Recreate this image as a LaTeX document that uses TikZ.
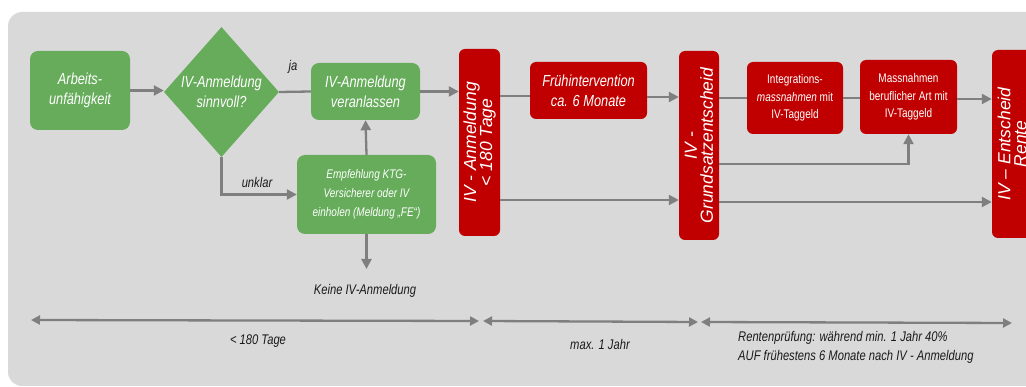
\documentclass[tikz,border=0pt]{standalone}
\usepackage{fontspec}
\setmainfont{Liberation Sans}[FakeStretch=0.8]
\newfontfamily\widefont{Liberation Sans}
\usetikzlibrary{arrows.meta,shapes.geometric,calc}
\definecolor{bg}{HTML}{D9D9D9}
\definecolor{grn}{HTML}{66AC5B}
\definecolor{rd}{HTML}{C00000}
\definecolor{arr}{HTML}{7F7F7F}
\definecolor{txt}{HTML}{1A1A1A}
\begin{document}
\begin{tikzpicture}[x=1pt,y=-1pt,
  gbox/.style={fill=grn, rounded corners=8pt, text=white, align=center, inner sep=0pt, font=\itshape\fontsize{16}{20}\selectfont},
  rbox/.style={fill=rd, rounded corners=6pt, text=white, align=center, inner sep=0pt, font=\itshape\fontsize{16}{20}\selectfont},
  vbox/.style={rbox, rotate=90, font=\widefont\itshape\fontsize{17.5}{16}\selectfont},
  sbox/.style={rbox, font=\fontsize{12.5}{17.5}\selectfont},
  conn/.style={draw=arr, line width=2.3pt},
  arrow/.style={conn, -{Triangle[length=10pt,width=10pt]}},
  darrow/.style={conn, {Triangle[length=9pt,width=9pt]}-{Triangle[length=9pt,width=9pt]}},
  lbl/.style={text=txt, font=\itshape\fontsize{14}{19}\selectfont, inner sep=0pt},
]
\useasboundingbox (0,0) rectangle (1026,387);
\begin{scope}
\clip (0,0) rectangle (1026,387);
\fill[bg, rounded corners=14pt] (8,12) rectangle (1070,386);

% green nodes
\node[gbox, minimum width=100pt, minimum height=79pt] (arb) at (80,90.5) {Arbeits-\\unfähigkeit};
\node[diamond, fill=grn, text=white, align=center, inner sep=0pt, aspect=0.885,
      minimum width=115pt, minimum height=130pt, font=\itshape\fontsize{16}{20}\selectfont] (dia) at (221.5,92) {IV-Anmeldung\\sinnvoll?};
\node[gbox, minimum width=109pt, minimum height=57pt] (ver) at (365.5,91.5) {IV-Anmeldung\\veranlassen};
\node[gbox, minimum width=139pt, minimum height=79pt, font=\itshape\fontsize{12.5}{19}\selectfont] (emp) at (366.5,194.5) {Empfehlung KTG-\\Versicherer oder IV\\einholen (Meldung „FE“)};
\node[lbl] (keine) at (365,291) {Keine IV-Anmeldung};
\coordinate (keinetop) at (366.5,269);
\node[lbl] (ja) at (293,67) {ja};
\node[lbl] (unklar) at (257,182) {unklar};

% red nodes
\node[vbox, minimum width=187pt, minimum height=41pt] (ivanm) at (479.5,142.5) {IV - Anmeldung\\< 180 Tage};
\node[rbox, minimum width=117pt, minimum height=57pt] (fruh) at (588.5,90.5) {Frühintervention\\ca. 6 Monate};
\node[vbox, minimum width=189pt, minimum height=40pt] (grund) at (699,145.5) {IV -\\Grundsatzentscheid};
\node[sbox, minimum width=96pt, minimum height=72pt] (integ) at (795,98) {Integrations-\\\textit{massnahmen} mit\\IV-Taggeld};
\node[sbox, minimum width=97pt, minimum height=74pt] (mass) at (908.5,97) {Massnahmen\\beruflicher Art mit\\IV-Taggeld};
\node[vbox, minimum width=188pt, minimum height=40pt] (ent) at (1012,144) {IV – Entscheid\\Rente};

% helper points on box sides (rotated nodes: .north = left side, .south = right side)
\coordinate (fw) at ($(fruh.west)+(0,5.5)$);
\coordinate (fe) at ($(fruh.east)+(0,6.5)$);
\coordinate (ivlow) at ($(ivanm.south)+(0,57.5)$);
\coordinate (me) at ($(mass.east)+(0,2)$);
\coordinate (gmid) at ($(grund.south)+(0,18.5)$);
\coordinate (glow) at ($(grund.south)+(0,56.5)$);

% connectors
\draw[arrow] (arb.east) -- (arb.east -| dia.west);
\draw[conn] (dia.east) -- (ver.west);
\draw[arrow] (dia.south) |- (emp.west);
\draw[arrow] (emp.north) -- (ver.south);
\draw[arrow] (emp.south) -- (keinetop);
\draw[arrow] (ver.east) -- (ver.east -| ivanm.north);
\draw[conn] (fw -| ivanm.south) -- (fw);
\draw[arrow] (fe) -- (fe -| grund.north);
\draw[arrow] (ivlow) -- (ivlow -| grund.north);
\draw[conn] (integ.west -| grund.south) -- (integ.west);
\draw[conn] (integ.east) -- (integ.east -| mass.west);
\draw[arrow] (me) -- (me -| ent.north);
\draw[arrow] (gmid) -| (mass.south);
\draw[arrow] (glow) -- (glow -| ent.north);

% time line
\coordinate (b0) at (31,320);
\coordinate (b1) at (479,321);
\coordinate (b2) at (483,321);
\coordinate (b3) at (698,322);
\coordinate (b4) at (701,322);
\coordinate (b5) at (1012,323);
\draw[darrow] (b0) -- (b1);
\draw[darrow] (b2) -- (b3);
\draw[darrow] (b4) -- (b5);
\node[lbl] (t1) at (258,341) {< 180 Tage};
\node[lbl] (t2) at (600,344) {max. 1 Jahr};
\node[lbl, anchor=west, align=left] (t3) at (738,347) {Rentenprüfung: während min. 1 Jahr 40\%\\AUF frühestens 6 Monate nach IV - Anmeldung};
\end{scope}
\end{tikzpicture}
\end{document}
